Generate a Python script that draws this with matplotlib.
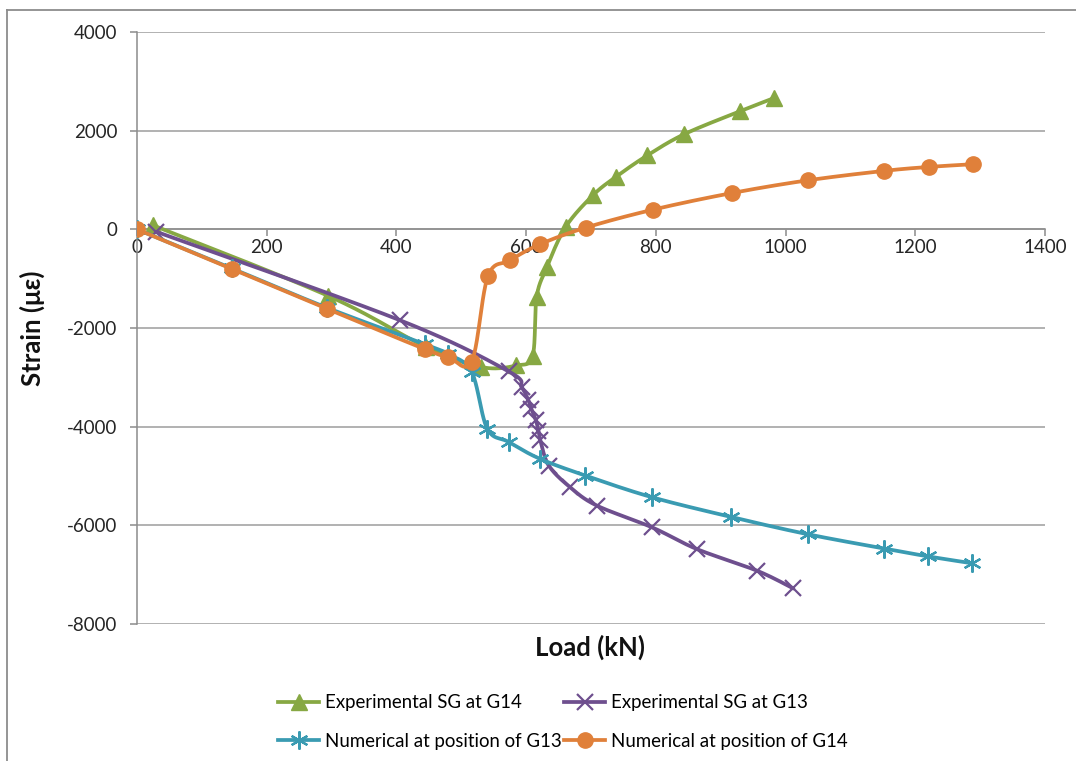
import numpy as np
import matplotlib
matplotlib.use("Agg")
import matplotlib.pyplot as plt
from matplotlib.lines import Line2D

plt.rcParams['font.family'] = ['Lato', 'DejaVu Sans']

# Experimental strain gauge at G14
load_exp_g14 = [25, 295, 445, 530, 585, 610, 616, 632, 661, 703, 738, 787, 844, 929, 982]
strain_exp_g14 = [80, -1350, -2380, -2790, -2760, -2560, -1380, -765, 50, 690, 1060, 1500, 1930, 2390, 2660]

# Experimental strain gauge at G13
load_exp_g13 = [30, 405, 573, 593, 603, 608, 615, 619, 622, 635, 668, 709, 794, 863, 956, 1012]
strain_exp_g13 = [-50, -1840, -2880, -3200, -3450, -3640, -3870, -4080, -4280, -4790, -5230, -5600, -6040, -6480, -6920, -7280]

# Numerical model, position of G13
load_num_g13 = [0, 146, 293, 444, 480, 516, 540, 573, 621, 691, 794, 916, 1034, 1152, 1220, 1288]
strain_num_g13 = [0, -790, -1590, -2330, -2530, -2890, -4040, -4310, -4650, -4990, -5430, -5830, -6180, -6470, -6630, -6770]

# Numerical model, position of G14
load_num_g14 = [0, 146, 293, 444, 480, 516, 541, 575, 621, 692, 796, 917, 1035, 1152, 1221, 1289]
strain_num_g14 = [0, -800, -1610, -2430, -2590, -2680, -955, -630, -305, 35, 400, 735, 995, 1185, 1265, 1320]

x_ticks = [0, 200, 400, 600, 800, 1000, 1200, 1400]
y_ticks = [-8000, -6000, -4000, -2000, 0, 2000, 4000]


def smooth(x, y, n=24):
    """Bezier smoothing through every point (spreadsheet-style smoothed line)."""
    pts = np.column_stack([np.asarray(x, float), np.asarray(y, float)])
    out = []
    t = np.linspace(0, 1, n)[:, None]
    for i in range(len(pts) - 1):
        p0 = pts[i - 1] if i > 0 else pts[i]
        p1, p2 = pts[i], pts[i + 1]
        p3 = pts[i + 2] if i + 2 < len(pts) else pts[i + 1]
        c1 = p1 + (p2 - p0) / 6.0
        c2 = p2 - (p3 - p1) / 6.0
        seg = (1 - t) ** 3 * p1 + 3 * (1 - t) ** 2 * t * c1 + 3 * (1 - t) * t ** 2 * c2 + t ** 3 * p2
        out.append(seg if i == 0 else seg[1:])
    s = np.vstack(out)
    return s[:, 0], s[:, 1]


green = '#87A843'
purple = '#6E4F8E'
teal = '#3A9BB2'
orange = '#E0803A'

fig = plt.figure(figsize=(10.76, 7.61), dpi=100)
ax = fig.add_axes([137 / 1076, 1 - 624 / 761, 908 / 1076, 592 / 761])

series = [
    (load_exp_g14, strain_exp_g14, green, dict(marker='^', ms=11, mec=green, mfc=green), 'Experimental SG at G14'),
    (load_exp_g13, strain_exp_g13, purple, dict(marker='x', ms=11, mew=1.6, mec=purple), 'Experimental SG at G13'),
    (load_num_g13, strain_num_g13, teal, dict(marker=(6, 2, 0), ms=13, mew=1.6, mec=teal), 'Numerical at position of G13'),
    (load_num_g14, strain_num_g14, orange, dict(marker='o', ms=11, mec=orange, mfc=orange), 'Numerical at position of G14'),
]

handles = []
for z, (lx, sy, col, mk, lab) in enumerate(series):
    sx, ss = smooth(lx, sy)
    ax.plot(sx, ss, color=col, lw=2.7, solid_capstyle='round', zorder=3 + z)
    ax.plot(lx, sy, ls='none', zorder=3 + z, **mk)
    handles.append(Line2D([0], [0], color=col, lw=2.7, **mk))

ax.set_xlim(0, 1400)
ax.set_ylim(-8000, 4000)
ax.set_xticks(x_ticks)
ax.set_yticks(y_ticks)
ax.set_xticklabels([str(v) for v in x_ticks])
ax.set_yticklabels([str(v) for v in y_ticks])

ax.yaxis.grid(True, color='#ABABAB', lw=1.3)
ax.set_axisbelow(True)
for sp in ['top', 'right']:
    ax.spines[sp].set_visible(False)
ax.spines['bottom'].set_position(('data', 0))
ax.spines['bottom'].set_color('#8C8C8C')
ax.spines['left'].set_color('#8C8C8C')
ax.spines['bottom'].set_linewidth(1.1)
ax.spines['left'].set_linewidth(1.1)
ax.spines['bottom'].set_zorder(2)
ax.tick_params(axis='both', colors='#8C8C8C', labelcolor='#262626', labelsize=13.5,
               length=5, width=1.1, direction='out')
ax.tick_params(axis='y', pad=9)
ax.tick_params(axis='x', pad=2)

fig.text(590 / 1076, 1 - 647 / 761, 'Load (kN)', ha='center', va='center',
         fontsize=18.5, fontweight='bold', color='#111111')
fig.text(32 / 1076, 1 - 328 / 761, 'Strain (με)', ha='center', va='center', rotation=90,
         fontsize=18.5, fontweight='bold', color='#111111')

# row-major legend: exp G14 | exp G13 / num G13 | num G14
order = [0, 2, 1, 3]
fig.legend(handles=[handles[i] for i in order], labels=[series[i][4] for i in order],
           ncol=2, loc='center', bbox_to_anchor=(563 / 1076, 1 - 722 / 761), frameon=False,
           fontsize=13.4, handlelength=2.2, handletextpad=0.3, columnspacing=0.15,
           labelspacing=1.15, borderaxespad=0, borderpad=0)

# chart-area border (left and top edges)
fig.add_artist(Line2D([7 / 1076, 7 / 1076], [0, 1 - 10 / 761], transform=fig.transFigure,
                      color='#8C8C8C', lw=1.3))
fig.add_artist(Line2D([7 / 1076, 1], [1 - 10 / 761, 1 - 10 / 761], transform=fig.transFigure,
                      color='#8C8C8C', lw=1.3))

fig.savefig('out.png', dpi=100, facecolor='white')
